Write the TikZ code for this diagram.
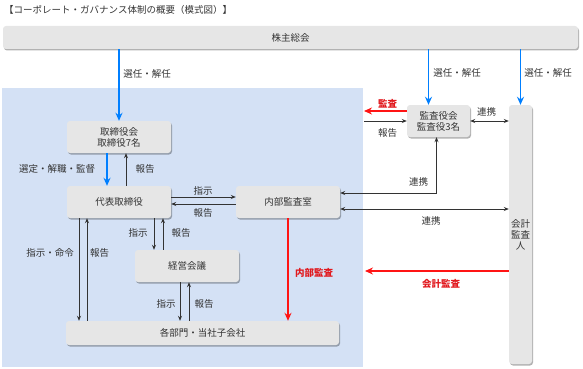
\documentclass[tikz,border=0pt]{standalone}
\usepackage{fontspec}
\setmainfont{Noto Sans CJK JP}
\usetikzlibrary{arrows.meta,shadows}

\definecolor{boxgray}{RGB}{230,230,230}
\definecolor{bgblue}{RGB}{212,225,245}
\definecolor{arrblue}{RGB}{0,127,255}
\definecolor{arrred}{RGB}{255,20,20}
\definecolor{txtred}{RGB}{225,25,30}
\definecolor{txtgray}{RGB}{51,51,51}

\tikzset{
  box/.style={fill=boxgray, rounded corners=3pt, inner sep=0pt, align=center, text=txtgray,
    drop shadow={shadow xshift=1pt, shadow yshift=-1.5pt, fill=black, opacity=0.3}},
  lbl/.style={text=txtgray, inner sep=1pt},
  redlbl/.style={text=txtred, inner sep=1pt, font=\fontsize{9.5}{11}\selectfont\bfseries},
  bluearr/.style={draw=arrblue, line width=1.4pt, -{Stealth[length=8pt,width=7pt]}},
  redarr/.style={draw=arrred, line width=1.4pt, -{Stealth[length=8pt,width=7pt]}},
  blkarr/.style={draw=txtgray, line width=0.7pt, -{Stealth[length=5pt,width=4pt]}},
  blkboth/.style={draw=txtgray, line width=0.7pt, {Stealth[length=5pt,width=4pt]}-{Stealth[length=5pt,width=4pt]}}
}

\begin{document}
\begin{tikzpicture}[x=1pt, y=-1pt, font=\fontsize{9.5}{11}\selectfont]
  \useasboundingbox (0,0) rectangle (583,369);
  % area of the company
  \fill[bgblue] (2,88) rectangle (363,367);

  \node[lbl, anchor=west] (title) at (3,10) {【コーポレート・ガバナンス体制の概要（模式図）】};

  % boxes
  \node[box, minimum width=575pt, minimum height=23pt] (bar) at (290.5,37.5) {株主総会};
  \node[box, minimum width=104pt, minimum height=32pt] (board) at (119,137) {取締役会\\取締役7名};
  \node[box, minimum width=104pt, minimum height=32pt] (ceo) at (119,202) {代表取締役};
  \node[box, minimum width=104pt, minimum height=32pt] (audit) at (288,202) {内部監査室};
  \node[box, minimum width=104pt, minimum height=32pt] (mgmt) at (187,266) {経営会議};
  \node[box, minimum width=273pt, minimum height=24pt] (depts) at (202.5,333) {各部門・当社子会社};
  \node[box, minimum width=63pt, minimum height=32pt] (kansa) at (438.5,121) {監査役会\\監査役3名};
  \node[box, minimum width=23pt, minimum height=259pt] (auditor) at (520.5,234.5) {会計\\監査\\人};

  \coordinate (kansaL) at (364,111);
  \coordinate (reportL) at (364,121);
  \coordinate (auditL) at (365,271);

  % election
  \draw[bluearr] (bar.south -| board.north) -- (board.north);
  \draw[bluearr] ([xshift=-10pt]kansa.north |- bar.south) -- ([xshift=-10pt]kansa.north);
  \draw[bluearr] (bar.south -| auditor.north) -- (auditor.north);
  \draw[bluearr] ([xshift=-12pt]board.south) -- ([xshift=-12pt]ceo.north);
  \draw[blkarr] ([xshift=7pt]ceo.north) -- ([xshift=7pt]board.south);

  % inside the company
  \draw[blkarr] ([yshift=5pt]ceo.east) -- ([yshift=5pt]audit.west);
  \draw[blkarr] ([yshift=-2pt]audit.west) -- ([yshift=-2pt]ceo.east);
  \draw[blkarr] ([xshift=-33pt]mgmt.north |- ceo.south) -- ([xshift=-33pt]mgmt.north);
  \draw[blkarr] ([xshift=-24pt]mgmt.north) -- ([xshift=-24pt]mgmt.north |- ceo.south);
  \draw[blkarr] ([xshift=-40pt]ceo.south) -- ([xshift=-40pt]ceo.south |- depts.north);
  \draw[blkarr] ([xshift=-32pt]ceo.south |- depts.north) -- ([xshift=-32pt]ceo.south);
  \draw[blkarr] ([xshift=-7pt]mgmt.south) -- ([xshift=-7pt]mgmt.south |- depts.north);
  \draw[blkarr] ([xshift=2pt]mgmt.south |- depts.north) -- ([xshift=2pt]mgmt.south);
  \draw[redarr] (audit.south) -- (audit.south |- depts.north);

  % auditors
  \draw[redarr] ([yshift=10pt]kansa.west) -- (kansaL);
  \draw[blkarr] (reportL) -- (kansa.west);
  \draw[blkboth] (kansa.east) -- (kansa.east -| auditor.west);
  \draw[blkboth] ([xshift=-2pt]kansa.south) |- ([yshift=9pt]audit.east);
  \draw[blkboth] ([yshift=-7pt]audit.east) -- ([yshift=-7pt]audit.east -| auditor.west);
  \draw[redarr] (auditor.west |- auditL) -- (auditL);

  % labels
  \node[lbl] (elect1) at (147,74) {選任・解任};
  \node[lbl] (elect2) at (457,73) {選任・解任};
  \node[lbl] (elect3) at (548,73) {選任・解任};
  \node[lbl] (supervise) at (57,169) {選定・解職・監督};
  \node[lbl] (rep1) at (145,169) {報告};
  \node[lbl] (ins1) at (203,191) {指示};
  \node[lbl] (rep2) at (203,213) {報告};
  \node[lbl] (ins2) at (138,233) {指示};
  \node[lbl] (rep3) at (181,233) {報告};
  \node[lbl] (order) at (50,253) {指示・命令};
  \node[lbl] (rep4) at (99.5,253) {報告};
  \node[lbl] (ins3) at (166,304) {指示};
  \node[lbl] (rep5) at (204,304) {報告};
  \node[redlbl] (intaudit) at (314,273) {内部監査};
  \node[redlbl] (kansalbl) at (387.5,104) {監査};
  \node[lbl] (rep6) at (387.5,133) {報告};
  \node[lbl] (coop1) at (486.5,112) {連携};
  \node[lbl] (coop2) at (418.5,182) {連携};
  \node[lbl] (coop3) at (431,221) {連携};
  \node[redlbl] (acclbl) at (441,284) {会計監査};
\end{tikzpicture}
\end{document}
